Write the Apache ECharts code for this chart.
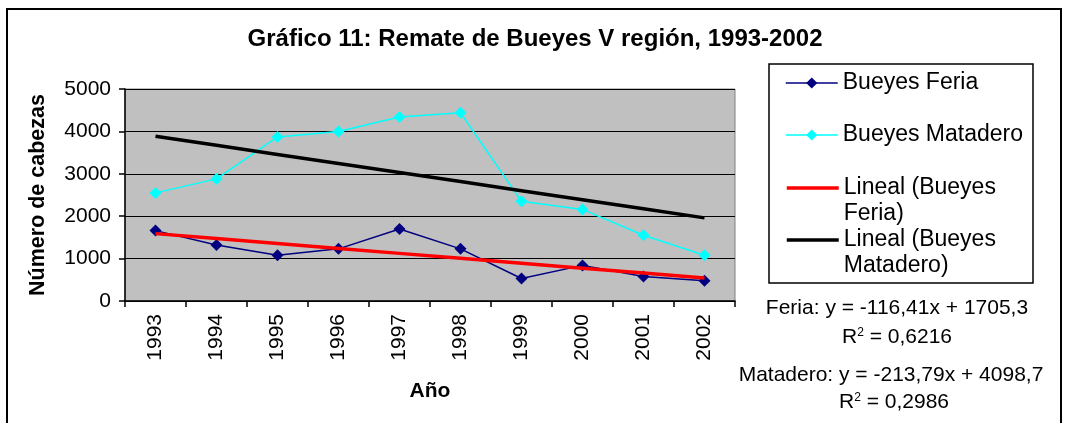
<!DOCTYPE html>
<html><head><meta charset="utf-8">
<script src="https://cdn.jsdelivr.net/npm/echarts@6/dist/echarts.min.js"></script>
<style>html,body{margin:0;padding:0;background:#fff}#c{width:1068px;height:423px}</style>
</head><body><div id="c"></div>
<script>
const years = ['1993','1994','1995','1996','1997','1998','1999','2000','2001','2002'];
const feria = [1660, 1320, 1080, 1230, 1700, 1230, 530, 840, 580, 480];
const matadero = [2550, 2880, 3870, 4000, 4340, 4440, 2350, 2160, 1550, 1080];
// trend values read from the fitted equations shown on the chart
const trendFeria = [1588.9, 1472.5, 1356.1, 1239.7, 1123.3, 1006.8, 890.4, 774.0, 657.6, 541.2];
const trendMatadero = [3884.9, 3671.1, 3457.3, 3243.5, 3029.8, 2816.0, 2602.2, 2388.4, 2174.6, 1960.8];
const yTicks = [0, 1000, 2000, 3000, 4000, 5000];
const seriesNames = ['Bueyes Feria', 'Bueyes Matadero', 'Lineal (Bueyes Feria)', 'Lineal (Bueyes Matadero)'];
const legendLabels = ['Bueyes Feria', 'Bueyes Matadero', ' \nLineal (Bueyes\nFeria)', ' \nLineal (Bueyes\nMatadero)'];
const eqTexts = ['Feria: y = -116,41x + 1705,3', '0,6216', 'Matadero: y = -213,79x + 4098,7', '0,2986'];

const F = "'Liberation Sans', Arial, sans-serif";
const colors = ['#000080', '#00FFFF', '#FF0000', '#000000'];
const legendTops = [70, 122, 149, 201];

function makeLegend(i) {
  const item = {name: seriesNames[i]};
  if (i >= 2) item.itemStyle = {opacity: 0};
  return {
    orient: 'vertical', left: 785, top: legendTops[i], padding: 0,
    itemWidth: 52, itemHeight: 14, itemGap: 0,
    selectedMode: false,
    lineStyle: {width: i >= 2 ? 3.5 : 1.5},
    data: [item],
    formatter: function () { return legendLabels[i]; },
    textStyle: {fontFamily: F, fontSize: 23, color: '#000', lineHeight: 26}
  };
}

const chart = echarts.init(document.getElementById('c'), null, {renderer: 'canvas'});
chart.setOption({
  animation: false,
  textStyle: {fontFamily: F},
  title: {
    text: 'Gráfico 11: Remate de Bueyes V región, 1993-2002',
    left: 535, top: 27, textAlign: 'center', padding: 0,
    textStyle: {fontFamily: F, fontSize: 24, fontWeight: 'bold', color: '#000'}
  },
  grid: {left: 125, right: 333, top: 89, bottom: 122, show: true,
         backgroundColor: '#C0C0C0', borderColor: '#808080', borderWidth: 1},
  legend: [0, 1, 2, 3].map(makeLegend),
  xAxis: {
    type: 'category', data: years, boundaryGap: true,
    name: 'Año', nameLocation: 'middle', nameGap: 80,
    nameTextStyle: {fontFamily: F, fontSize: 21, fontWeight: 'bold', color: '#000'},
    axisLine: {lineStyle: {color: '#000', width: 1.5}},
    axisTick: {show: true, length: 6, interval: 0, lineStyle: {color: '#000', width: 1.5}},
    axisLabel: {rotate: 90, fontFamily: F, fontSize: 21, color: '#000', margin: 13, interval: 0},
    splitLine: {show: false}
  },
  yAxis: {
    type: 'value', min: yTicks[0], max: yTicks[yTicks.length - 1], interval: 1000,
    name: 'Número de cabezas', nameLocation: 'middle', nameGap: 76,
    nameTextStyle: {fontFamily: F, fontSize: 21.5, fontWeight: 'bold', color: '#000'},
    axisLine: {show: true, lineStyle: {color: '#000', width: 1.5}},
    axisTick: {show: true, length: 6, lineStyle: {color: '#000', width: 1.5}},
    axisLabel: {fontFamily: F, fontSize: 21, color: '#000', margin: 14,
                formatter: function (v) { return String(v); }},
    splitLine: {show: true, lineStyle: {color: '#000', width: 1}}
  },
  series: [
    {name: seriesNames[0], type: 'line', data: feria, symbol: 'diamond', symbolSize: 12,
     lineStyle: {color: colors[0], width: 1.5}, itemStyle: {color: colors[0]}, z: 3},
    {name: seriesNames[1], type: 'line', data: matadero, symbol: 'diamond', symbolSize: 12,
     lineStyle: {color: colors[1], width: 1.5}, itemStyle: {color: colors[1]}, z: 3},
    {name: seriesNames[2], type: 'line', data: trendFeria, symbol: 'none',
     lineStyle: {color: colors[2], width: 3.5}, itemStyle: {color: colors[2]}, z: 4},
    {name: seriesNames[3], type: 'line', data: trendMatadero, symbol: 'none',
     lineStyle: {color: colors[3], width: 3.5}, itemStyle: {color: colors[3]}, z: 4}
  ],
  graphic: [
    {type: 'rect', shape: {x: 7, y: 9, width: 1054, height: 430},
     style: {fill: 'none', stroke: '#000', lineWidth: 2}, silent: true, z: -10},
    {type: 'rect', shape: {x: 769, y: 64, width: 264, height: 219},
     style: {fill: '#fff', stroke: '#000', lineWidth: 1.5}, silent: true, z: -5},
    {type: 'text', x: 897, y: 308, style: {text: eqTexts[0], font: '21px ' + F, fill: '#000',
      textAlign: 'center', textVerticalAlign: 'middle'}},
    {type: 'text', x: 897, y: 337, style: {
      text: '{r|R}{s|2}{r| = ' + eqTexts[1] + '}', textAlign: 'center', textVerticalAlign: 'middle',
      rich: {r: {font: '21px ' + F, fill: '#000', verticalAlign: 'bottom'},
             s: {font: '12px ' + F, fill: '#000', verticalAlign: 'top'}}}},
    {type: 'text', x: 891, y: 375, style: {text: eqTexts[2], font: '21px ' + F, fill: '#000',
      textAlign: 'center', textVerticalAlign: 'middle'}},
    {type: 'text', x: 894, y: 402, style: {
      text: '{r|R}{s|2}{r| = ' + eqTexts[3] + '}', textAlign: 'center', textVerticalAlign: 'middle',
      rich: {r: {font: '21px ' + F, fill: '#000', verticalAlign: 'bottom'},
             s: {font: '12px ' + F, fill: '#000', verticalAlign: 'top'}}}}
  ]
});
</script></body></html>
